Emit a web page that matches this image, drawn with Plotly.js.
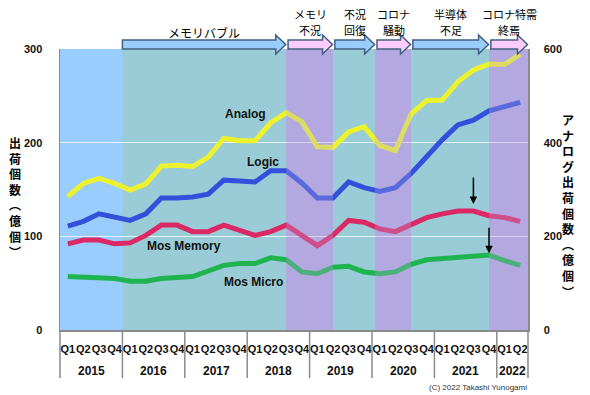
<!DOCTYPE html>
<html><head><meta charset="utf-8">
<script src="https://cdn.plot.ly/plotly-3.0.1.min.js"></script>
<style>html,body{margin:0;padding:0;background:#fff}#chart{width:590px;height:395px}</style>
</head><body><div id="chart"></div>
<script>
// ---- data ----
const years = ['2015','2016','2017','2018','2019','2020','2021','2022'];
const quartersPerYear = [4,4,4,4,4,4,4,2];
const quarterNames = ['Q1','Q2','Q3','Q4'];
const analog    = [285,313,324,313,299,312,350,352,349,369,409,404,404,442,464,445,391,390,423,434,394,383,461,490,491,530,555,568,567,589];
const logic     = [111,116,124,120,117,124,141,141,142,145,160,159,158,170,170,157,141,141,158,152,148,152,167,185,203,219,224,234,238,243];
const mosMemory = [92,96,96,92,93,101,112,112,105,105,112,107,101,105,112,101,90,101,117,115,108,105,113,120,124,127,127,122,120,116];
const mosMicro  = [57,56,56,55,52,52,55,56,57,63,69,71,71,77,75,62,60,67,68,62,60,62,70,75,76,77,78,80,74,69];
const periodLabels = ['メモリバブル','メモリ\n不況','不況\n回復','コロナ\n騒動','半導体\n不足','コロナ特需\n終焉'];
const periodStart  = [3.5,14,17,19.7,22,27];
const periodEnd    = [14,17,19.7,22,27,29.5];
const periodKind   = ['up','down','up','down','up','down'];
const leftTitle  = '出荷個数︵億個︶';
const rightTitle = 'アナログ出荷個数︵億個︶';

// ---- build ----
const qLabels = [];
const yearStartIdx = [];
years.forEach((y,k)=>{ yearStartIdx.push(qLabels.length); for(let q=0;q<quartersPerYear[k];q++) qLabels.push(quarterNames[q]); });
const idx = qLabels.map((_,i)=>i);
const N = qLabels.length;

const W = 590, H = 395, ML = 60, MR = 62, MT = 49, MB = 65;
const PW = W-ML-MR, PH = H-MT-MB;
const px2x = p => (p-ML)/PW;          // pixel -> paper x
const py2y = p => (H-MB-p)/PH;         // pixel -> paper y
const i2x  = i => (i+0.5)/N;           // index -> paper x

const sans = 'Arial, "Liberation Sans", sans-serif';
const cjk = '"Noto Sans CJK JP", sans-serif';

const colors = {analog:'#eef22e', logic:'#3350dc', mem:'#dc2864', micro:'#1fb450'};
const traces = [
  {x:idx, y:logic, type:'scatter', mode:'lines', line:{color:colors.logic, width:5}, hoverinfo:'skip'},
  {x:idx, y:mosMemory, type:'scatter', mode:'lines', line:{color:colors.mem, width:5}, hoverinfo:'skip'},
  {x:idx, y:mosMicro, type:'scatter', mode:'lines', line:{color:colors.micro, width:5}, hoverinfo:'skip'},
  {x:idx, y:analog, yaxis:'y2', type:'scatter', mode:'lines', line:{color:colors.analog, width:5}, hoverinfo:'skip'}
];

const teal = 'rgb(153,204,214)', purple = 'rgb(180,168,224)';
const shapes = [];
const annotations = [];
periodStart.forEach((s,k)=>{
  const e = periodEnd[k];
  const c = periodKind[k]==='up' ? teal : purple;
  shapes.push({type:'rect', layer:'below', xref:'x', yref:'paper', x0:s, x1:e, y0:0, y1:1, fillcolor:c, line:{width:0}});
  if (periodKind[k]==='down') shapes.push({type:'rect', layer:'above', xref:'x', yref:'paper', x0:s, x1:e, y0:0, y1:1, fillcolor:c, opacity:0.3, line:{width:0}});
  const gap = k===0 ? 0 : 0.12;
  const x0 = i2x(s+gap), x1 = i2x(e-0.03);
  const hl = 10/PW;
  const xh = x1-hl;
  const yc = py2y(44.5), bh = 4.5/PH, hh = 9.5/PH;
  const path = `M${x0},${yc-bh} L${x0},${yc+bh} L${xh},${yc+bh} L${xh},${yc+hh} L${x1},${yc} L${xh},${yc-hh} L${xh},${yc-bh} Z`;
  shapes.push({type:'path', layer:'above', xref:'paper', yref:'paper', path:path,
    fillcolor: periodKind[k]==='up' ? '#99ccff' : '#ffccff', line:{color:'#41607f', width:1.5}});
  const lines = periodLabels[k].split('\n');
  const cx = (x0+x1)/2;
  const ys = lines.length===1 ? [32] : [13.5,29.5];
  lines.forEach((t,j)=>annotations.push({xref:'paper', yref:'paper', x:cx, y:py2y(ys[j]), text:t, showarrow:false,
    xanchor:'center', yanchor:'middle', borderpad:0, font:{family:cjk, size:lines.length===1 ? 12 : 11, color:'#000'}}));
});

// year dividers & labels
const bounds = yearStartIdx.concat([N]);
bounds.forEach(b=>shapes.push({type:'line', xref:'paper', yref:'paper', x0:b/N, x1:b/N, y0:0, y1:py2y(378), line:{color:'#8a8a8a', width:1.5}}));
years.forEach((y,k)=>{
  const mid = (bounds[k]+bounds[k+1])/2/N;
  annotations.push({xref:'paper', yref:'paper', x:mid, y:py2y(371), text:y, showarrow:false, xanchor:'center', yanchor:'middle',
    font:{family:sans, size:12, color:'#111', weight:'bold'}});
});

// series labels
[['Analog',245,114],['Logic',263,162],['Mos Memory',184,246],['Mos Micro',253,282]].forEach(a=>{
  annotations.push({xref:'paper', yref:'paper', x:px2x(a[1]), y:py2y(a[2]), text:a[0], showarrow:false, xanchor:'center', yanchor:'middle',
    font:{family:sans, size:12, color:'#111', weight:'bold'}});
});

// peak arrows
annotations.push({x:26, y:mosMemory[26]+7.5, xref:'x', yref:'y', text:'', showarrow:true, ax:0, ay:-28, arrowhead:2, arrowsize:1, arrowwidth:1.5, arrowcolor:'#000'});
annotations.push({x:27, y:mosMicro[27]+2, xref:'x', yref:'y', text:'', showarrow:true, ax:0, ay:-27, arrowhead:2, arrowsize:1, arrowwidth:1.5, arrowcolor:'#000'});

// vertical titles (one character per line)
annotations.push({xref:'paper', yref:'paper', x:px2x(15), y:py2y(196.5), text:[...leftTitle].join('<br>'), showarrow:false,
  xanchor:'center', yanchor:'middle', borderpad:0, font:{family:cjk, size:12, color:'#000', weight:'bold'}});
annotations.push({xref:'paper', yref:'paper', x:px2x(568), y:py2y(205), text:[...rightTitle].join('<br>'), showarrow:false,
  xanchor:'center', yanchor:'middle', borderpad:0, font:{family:cjk, size:12, color:'#000', weight:'bold'}});

// copyright
annotations.push({xref:'paper', yref:'paper', x:px2x(478), y:py2y(387), text:'(C) 2022 Takashi Yunogami', showarrow:false,
  xanchor:'center', yanchor:'middle', font:{family:sans, size:8, color:'#333'}});

const layout = {
  width:W, height:H, margin:{l:ML, r:MR, t:MT, b:MB, pad:0},
  paper_bgcolor:'#fff', plot_bgcolor:'#99ccff', showlegend:false,
  xaxis:{type:'linear', range:[-0.5, N-0.5], tickvals:idx, ticktext:qLabels, tickangle:0, showgrid:false, zeroline:false,
    showline:true, linecolor:'#8a8a8a', linewidth:1.5, ticks:'', ticklabelstandoff:8,
    tickfont:{family:sans, size:11, color:'#111', weight:'bold'}, fixedrange:true},
  yaxis:{range:[0,300], tickvals:[0,100,200,300], showgrid:true, gridcolor:'rgba(255,255,255,0.75)', gridwidth:1,
    zeroline:false, showline:true, linecolor:'#8a8a8a', linewidth:1.5, ticks:'', ticklabelstandoff:14,
    tickfont:{family:sans, size:11, color:'#111', weight:'bold'}},
  yaxis2:{range:[0,600], tickvals:[0,200,400,600], overlaying:'y', side:'right', showgrid:false, zeroline:false,
    showline:true, linecolor:'#8a8a8a', linewidth:1.5, ticks:'', ticklabelstandoff:12,
    tickfont:{family:sans, size:11, color:'#111', weight:'bold'}},
  shapes:shapes, annotations:annotations
};
Plotly.newPlot('chart', traces, layout, {staticPlot:true, displayModeBar:false});
</script></body></html>
